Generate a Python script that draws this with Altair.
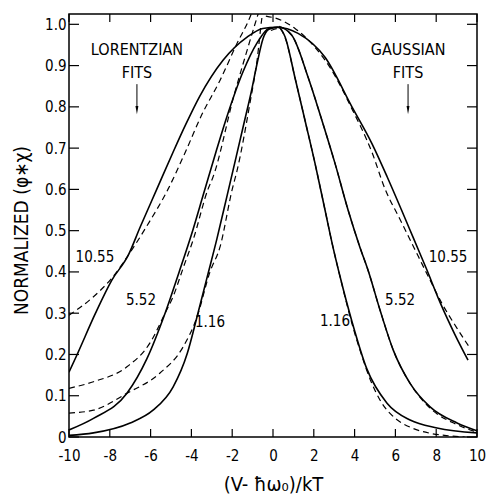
import altair as alt
import pandas as pd

# ---- data ----
s1055_x = [-10, -9.6, -8.7, -7.9, -7.1, -6.5, -5.7, -4.9, -4.3, -3.6, -2.45, -1.27, -0.5, 0.2, 1.23, 2.55, 3.87, 4.85, 5.6, 6.3, 6.9, 7.5, 8.2, 8.9, 9.56]
s1055_y = [0.157, 0.2, 0.3, 0.38, 0.44, 0.51, 0.6, 0.69, 0.755, 0.825, 0.913, 0.969, 0.99, 0.993, 0.978, 0.92, 0.8, 0.711, 0.63, 0.55, 0.48, 0.41, 0.325, 0.25, 0.186]

s552_x = [-10, -8.8, -7.16, -6.18, -5.29, -4.6, -4.0, -3.4, -2.8, -2.3, -1.47, -0.78, -0.2, 0.3, 0.93, 1.72, 2.4, 3.04, 3.68, 4.26, 4.66, 5.25, 5.9, 6.72, 7.7, 9.02, 10]
s552_y = [0.017, 0.045, 0.106, 0.19, 0.30, 0.40, 0.49, 0.59, 0.69, 0.77, 0.885, 0.955, 0.99, 0.993, 0.973, 0.872, 0.767, 0.663, 0.55, 0.46, 0.404, 0.307, 0.21, 0.13, 0.073, 0.034, 0.015]

s116_x = [-10, -8.8, -7.0, -5.88, -4.9, -4.2, -3.73, -3.24, -2.75, -2.25, -1.8, -1.4, -1.05, -0.78, -0.49, -0.2, 0.25, 0.59, 1.08, 1.57, 2.06, 2.55, 2.94, 3.28, 3.87, 4.6, 5.59, 6.72, 8.04, 10]
s116_y = [0.004, 0.01, 0.034, 0.065, 0.121, 0.203, 0.29, 0.385, 0.48, 0.585, 0.68, 0.765, 0.84, 0.905, 0.965, 0.988, 0.993, 0.97, 0.87, 0.767, 0.663, 0.55, 0.46, 0.39, 0.28, 0.165, 0.082, 0.041, 0.022, 0.01]

# Lorentzian fits (left)
l1055_x = [-10, -8.8, -7.9, -7.1, -6.2, -5.15, -4.3, -3.5, -2.6, -1.76, -1.13, -0.95]
l1055_y = [0.295, 0.34, 0.385, 0.44, 0.51, 0.6, 0.69, 0.78, 0.864, 0.954, 1.017, 1.04]
l552_x = [-10, -8.8, -7.16, -6.03, -5.29, -4.9, -4.4, -3.9, -3.19, -2.94, -1.9, -1.27, -0.78, -0.6]
l552_y = [0.118, 0.134, 0.17, 0.228, 0.3, 0.34, 0.41, 0.48, 0.6, 0.63, 0.83, 0.937, 1.017, 1.045]
l116_x = [-10, -8.8, -7.16, -5.54, -4.41, -3.73, -3.09, -2.6, -2.0, -1.76, -1.13, -0.78, -0.54, -0.45]
l116_y = [0.058, 0.065, 0.106, 0.155, 0.218, 0.29, 0.4, 0.46, 0.6, 0.646, 0.809, 0.913, 1.017, 1.045]

# Gaussian fits (right)
g1055_x = [-0.35, 0.4, 1.08, 2.06, 2.8, 3.87, 4.85, 5.5, 6.2, 6.9, 7.6, 8.3, 9.0, 9.66]
g1055_y = [1.02, 1.01, 0.99, 0.944, 0.895, 0.795, 0.69, 0.6, 0.53, 0.46, 0.39, 0.322, 0.265, 0.215]
g552_x = [0.3, 0.93, 1.72, 2.4, 3.04, 3.68, 4.26, 4.66, 5.25, 5.9, 6.72, 7.7, 9.02, 10]
g552_y = [0.995, 0.973, 0.872, 0.767, 0.663, 0.55, 0.46, 0.404, 0.307, 0.21, 0.13, 0.07, 0.03, 0.012]
g116_x = [-0.1, 0.3, 0.59, 1.08, 1.57, 2.06, 2.55, 2.94, 3.28, 3.87, 4.3, 4.8, 5.3, 6.0, 6.8, 7.7, 8.6, 9.4]
g116_y = [0.985, 0.99, 0.968, 0.87, 0.767, 0.663, 0.55, 0.46, 0.39, 0.275, 0.205, 0.135, 0.085, 0.045, 0.022, 0.009, 0.003, 0.0]

x_ticks = [-10, -8, -6, -4, -2, 0, 2, 4, 6, 8, 10]
y_ticks = [0, 0.1, 0.2, 0.3, 0.4, 0.5, 0.6, 0.7, 0.8, 0.9, 1.0]

lab_text = ["10.55", "5.52", "1.16", "10.55", "5.52", "1.16"]
lab_x = [-8.73, -6.47, -3.09, 8.58, 6.23, 3.04]
lab_y = [0.436, 0.332, 0.278, 0.436, 0.332, 0.281]

head_text = ["LORENTZIAN", "FITS", "GAUSSIAN", "FITS"]
head_x = [-6.67, -6.67, 6.62, 6.62]
head_y = [0.937, 0.881, 0.937, 0.881]

arrow_x = [-6.67, 6.62]
arrow_top = [0.855, 0.855]
arrow_bot = [0.80, 0.80]
arrow_tip = [0.792, 0.792]

FONT = "DejaVu Sans Condensed, Liberation Sans Narrow, Arial Narrow, sans-serif"
W, H = 408, 423


def frame(xs, ys, name):
    return pd.DataFrame({"x": xs, "y": ys, "curve": name})


solid = pd.concat([
    frame(s1055_x, s1055_y, "s1055"),
    frame(s552_x, s552_y, "s552"),
    frame(s116_x, s116_y, "s116"),
])
dashed = pd.concat([
    frame(l1055_x, l1055_y, "l1055"),
    frame(l552_x, l552_y, "l552"),
    frame(l116_x, l116_y, "l116"),
    frame(g1055_x, g1055_y, "g1055"),
    frame(g552_x, g552_y, "g552"),
    frame(g116_x, g116_y, "g116"),
])

xs = alt.Scale(domain=[-10, 10], nice=False, zero=False)
ys = alt.Scale(domain=[0, 1.025], nice=False, zero=False)

x_enc = alt.X("x:Q", scale=xs, axis=alt.Axis(
    values=x_ticks, labelExpr="'' + datum.value", ticks=False, domain=False, grid=False,
    labelFlush=False, labelFontSize=15, labelFont=FONT, labelPadding=11, labelColor="black",
    title="(V- ħω₀)/kT", titleFont=FONT, titleFontSize=20, titleFontWeight="normal",
    titleColor="black", titleX=W / 2, titleY=47, titleBaseline="middle", titleAnchor="middle"))
y_enc = alt.Y("y:Q", scale=ys, axis=alt.Axis(
    values=y_ticks, labelExpr="datum.value == 0 ? '0' : format(datum.value, '.1f')",
    ticks=False, domain=False, grid=False, labelFlush=False,
    labelFontSize=15, labelFont=FONT, labelPadding=3, labelColor="black",
    title="NORMALIZED (φ∗χ)", titleFont=FONT, titleFontSize=19, titleFontWeight="normal",
    titleColor="black", titleX=-48, titleY=216, titleAngle=270, titleBaseline="middle",
    titleAlign="center"))

solid_layer = alt.Chart(solid).mark_line(
    color="black", strokeWidth=1.6, interpolate="monotone", clip=True
).encode(x=x_enc, y=y_enc, detail="curve:N", order="x:Q")

dashed_layer = alt.Chart(dashed).mark_line(
    color="black", strokeWidth=1.2, strokeDash=[6, 4], interpolate="monotone", clip=True
).encode(x=alt.X("x:Q", scale=xs), y=alt.Y("y:Q", scale=ys), detail="curve:N", order="x:Q")

xt = pd.DataFrame({"t": x_ticks})
yt = pd.DataFrame({"t": y_ticks})
tk = dict(color="black", strokeWidth=1.2)
bottom_ticks = alt.Chart(xt).mark_rule(**tk).encode(
    x=alt.X("t:Q", scale=xs), y=alt.value(H), y2=alt.value(H - 8))
top_ticks = alt.Chart(xt).mark_rule(**tk).encode(
    x=alt.X("t:Q", scale=xs), y=alt.value(0), y2=alt.value(8))
left_ticks = alt.Chart(yt).mark_rule(**tk).encode(
    y=alt.Y("t:Q", scale=ys), x=alt.value(0), x2=alt.value(10))
right_ticks = alt.Chart(yt).mark_rule(**tk).encode(
    y=alt.Y("t:Q", scale=ys), x=alt.value(W), x2=alt.value(W - 10))

labels = alt.Chart(pd.DataFrame({"t": lab_text, "x": lab_x, "y": lab_y})).mark_text(
    font=FONT, fontSize=15, color="black", align="center", baseline="middle"
).encode(x=alt.X("x:Q", scale=xs), y=alt.Y("y:Q", scale=ys), text="t:N")

heads = alt.Chart(pd.DataFrame({"t": head_text, "x": head_x, "y": head_y})).mark_text(
    font=FONT, fontSize=16, color="black", align="center", baseline="middle"
).encode(x=alt.X("x:Q", scale=xs), y=alt.Y("y:Q", scale=ys), text="t:N")

adf = pd.DataFrame({"x": arrow_x, "top": arrow_top, "bot": arrow_bot, "tip": arrow_tip})
arrow_lines = alt.Chart(adf).mark_rule(color="black", strokeWidth=1).encode(
    x=alt.X("x:Q", scale=xs), y=alt.Y("top:Q", scale=ys), y2="bot:Q")
arrow_heads = alt.Chart(adf).mark_point(
    shape="M-0.35,-1L0.35,-1L0,1Z", filled=True, color="black", opacity=1, size=70
).encode(x=alt.X("x:Q", scale=xs), y=alt.Y("tip:Q", scale=ys))

chart = alt.layer(
    solid_layer, dashed_layer, bottom_ticks, top_ticks, left_ticks, right_ticks,
    labels, heads, arrow_lines, arrow_heads
).properties(
    width=W, height=H,
    autosize=alt.AutoSizeParams(type="none"),
    padding={"left": 69, "top": 14, "right": 12, "bottom": 57},
    background="white",
).configure_view(stroke="black", strokeWidth=1.5)

chart.save("out.html", embed_options={"renderer": "svg", "actions": False})
